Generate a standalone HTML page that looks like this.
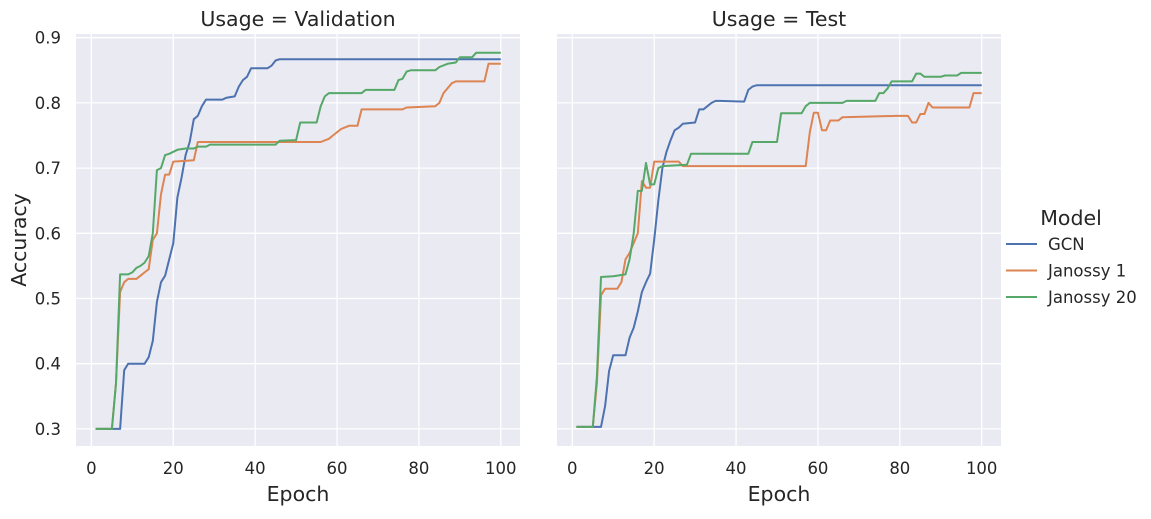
<!DOCTYPE html>
<html><head><meta charset="utf-8"><style>
body{margin:0;background:#fff;}
svg{font-family:"DejaVu Sans","Liberation Sans",sans-serif;}
</style></head><body>
<svg id="chart" width="1151" height="514" xmlns="http://www.w3.org/2000/svg"></svg>
<script>
const xTicks=[0,20,40,60,80,100];
const yTicks=[0.3,0.4,0.5,0.6,0.7,0.8,0.9];
const panels=["Validation","Test"];
const seriesNames=["GCN","Janossy 1","Janossy 20"];
const colors=["#4c72b0","#dd8452","#55a868"];
// Validation
const valGcnE=[1,7,8,9,13,14,15,16,17,18,19,20,21,22,23,24,25,26,27,28,32,33,35,36,37,38,39,43,44,45,46,100];
const valGcnV=[0.3,0.3,0.39,0.4,0.4,0.41,0.435,0.495,0.525,0.535,0.56,0.585,0.655,0.685,0.72,0.74,0.775,0.78,0.795,0.805,0.805,0.808,0.81,0.825,0.835,0.84,0.853,0.853,0.857,0.865,0.867,0.867];
const valJ1E=[1,5,6,7,8,9,11,12,13,14,15,16,17,18,19,20,25,26,56,58,59,61,63,65,66,76,77,84,85,86,88,89,96,97,100];
const valJ1V=[0.3,0.3,0.37,0.51,0.525,0.53,0.53,0.535,0.54,0.545,0.59,0.6,0.66,0.69,0.69,0.71,0.712,0.74,0.74,0.745,0.75,0.76,0.765,0.765,0.79,0.79,0.793,0.795,0.8,0.815,0.83,0.833,0.833,0.86,0.86];
const valJ20E=[1,5,6,7,9,10,11,12,13,14,15,16,17,18,19,20,21,23,25,26,28,29,45,46,50,51,55,56,57,58,66,67,74,75,76,77,78,84,85,87,89,90,93,94,100];
const valJ20V=[0.3,0.3,0.37,0.537,0.537,0.54,0.547,0.55,0.555,0.565,0.6,0.697,0.7,0.72,0.722,0.725,0.728,0.73,0.73,0.733,0.733,0.736,0.736,0.742,0.743,0.77,0.77,0.795,0.81,0.815,0.815,0.82,0.82,0.835,0.837,0.848,0.85,0.85,0.855,0.86,0.862,0.87,0.87,0.877,0.877];
// Test
const testGcnE=[1,7,8,9,10,13,14,15,16,17,18,19,20,21,22,23,24,25,26,27,30,31,32,33,34,35,36,42,43,44,45,100];
const testGcnV=[0.303,0.303,0.335,0.389,0.413,0.413,0.44,0.455,0.48,0.51,0.525,0.538,0.59,0.65,0.7,0.725,0.743,0.758,0.762,0.768,0.77,0.79,0.79,0.795,0.8,0.803,0.803,0.802,0.82,0.825,0.827,0.827];
const testJ1E=[1,5,6,7,8,11,12,13,14,15,16,17,18,19,20,26,27,57,58,59,60,61,62,63,65,66,79,82,83,84,85,86,87,88,97,98,100];
const testJ1V=[0.303,0.303,0.37,0.505,0.515,0.515,0.525,0.56,0.57,0.585,0.6,0.68,0.67,0.67,0.71,0.71,0.703,0.703,0.755,0.785,0.785,0.758,0.758,0.773,0.773,0.778,0.78,0.78,0.77,0.77,0.783,0.783,0.8,0.793,0.793,0.815,0.815];
const testJ20E=[1,5,6,7,10,13,14,15,16,17,18,19,20,21,22,28,29,43,44,50,51,56,57,58,66,67,74,75,76,77,78,83,84,85,86,90,91,94,95,100];
const testJ20V=[0.303,0.303,0.38,0.533,0.534,0.537,0.56,0.6,0.665,0.665,0.708,0.675,0.675,0.7,0.703,0.705,0.722,0.722,0.74,0.74,0.784,0.784,0.795,0.8,0.8,0.803,0.803,0.815,0.815,0.822,0.833,0.833,0.845,0.845,0.84,0.84,0.842,0.842,0.846,0.846];

const data=[[[valGcnE,valGcnV],[valJ1E,valJ1V],[valJ20E,valJ20V]],[[testGcnE,testGcnV],[testJ1E,testJ1V],[testJ20E,testJ20V]]];
const svg=document.getElementById('chart');
const NS="http://www.w3.org/2000/svg";
function mk(tag,attrs,parent){const e=document.createElementNS(NS,tag);for(const k in attrs)e.setAttribute(k,attrs[k]);(parent||svg).appendChild(e);return e;}
const axLeft=[76,557],axW=444,axTop=34,axBot=446;
function yScale(v){return 37.7+(0.9-v)*652;}
panels.forEach((p,pi)=>{
  const L=axLeft[pi];
  const x0=pi===0?91.4:572.3;
  const xScale=e=>x0+e*4.094;
  const g=mk('g',{});
  
  
  const bg=mk('rect',{x:L,y:axTop,width:axW,height:axBot-axTop,fill:'#eaeaf2'},g);
  
  
  xTicks.forEach(t=>{
    const gl=mk('line',{x1:xScale(t),x2:xScale(t),y1:axTop,y2:axBot,stroke:'#fff','stroke-width':1.3},g);
    
    
    const tl=mk('text',{x:xScale(t),y:474,'font-size':16.5,fill:'#262626','text-anchor':'middle'},g);
    tl.textContent=t;
    
    
  });
  yTicks.forEach(t=>{
    const gl=mk('line',{x1:L,x2:L+axW,y1:yScale(t),y2:yScale(t),stroke:'#fff','stroke-width':1.3},g);
    
    
    if(pi===0){
      const tl=mk('text',{x:61,y:yScale(t)+6,'font-size':16.5,fill:'#262626','text-anchor':'end'},g);
      tl.textContent=t.toFixed(1);
      
      
    }
  });
  data[pi].forEach((s,si)=>{
    const pts=s[0].map((e,i)=>xScale(e).toFixed(1)+','+yScale(s[1][i]).toFixed(1)).join(' ');
    const pl=mk('polyline',{points:pts,fill:'none',stroke:colors[si],'stroke-width':2,'stroke-linejoin':'round'},g);
    
    
  });
  const tt=mk('text',{x:L+axW/2,y:26,'font-size':20.5,fill:'#262626','text-anchor':'middle'},g);
  tt.textContent='Usage = '+p;
  
  
  const xl=mk('text',{x:L+axW/2,y:501,'font-size':20.5,fill:'#262626','text-anchor':'middle'},g);
  xl.textContent='Epoch';
  
  
});
const yl=mk('text',{x:26,y:240,'font-size':20.5,fill:'#262626','text-anchor':'middle',transform:'rotate(-90 26 240)'});
yl.textContent='Accuracy';


const lg=mk('g',{});


const lt=mk('text',{x:1071,y:225,'font-size':20.5,fill:'#262626','text-anchor':'middle'},lg);
lt.textContent='Model';


seriesNames.forEach((n,i)=>{
  const y=244+i*26.5;
  const ln=mk('line',{x1:1006,x2:1037,y1:y,y2:y,stroke:colors[i],'stroke-width':2},lg);
  
  
  const tx=mk('text',{x:1048,y:y+6,'font-size':16.5,fill:'#262626'},lg);
  tx.textContent=n;
  
  
});
</script>
</body></html>
